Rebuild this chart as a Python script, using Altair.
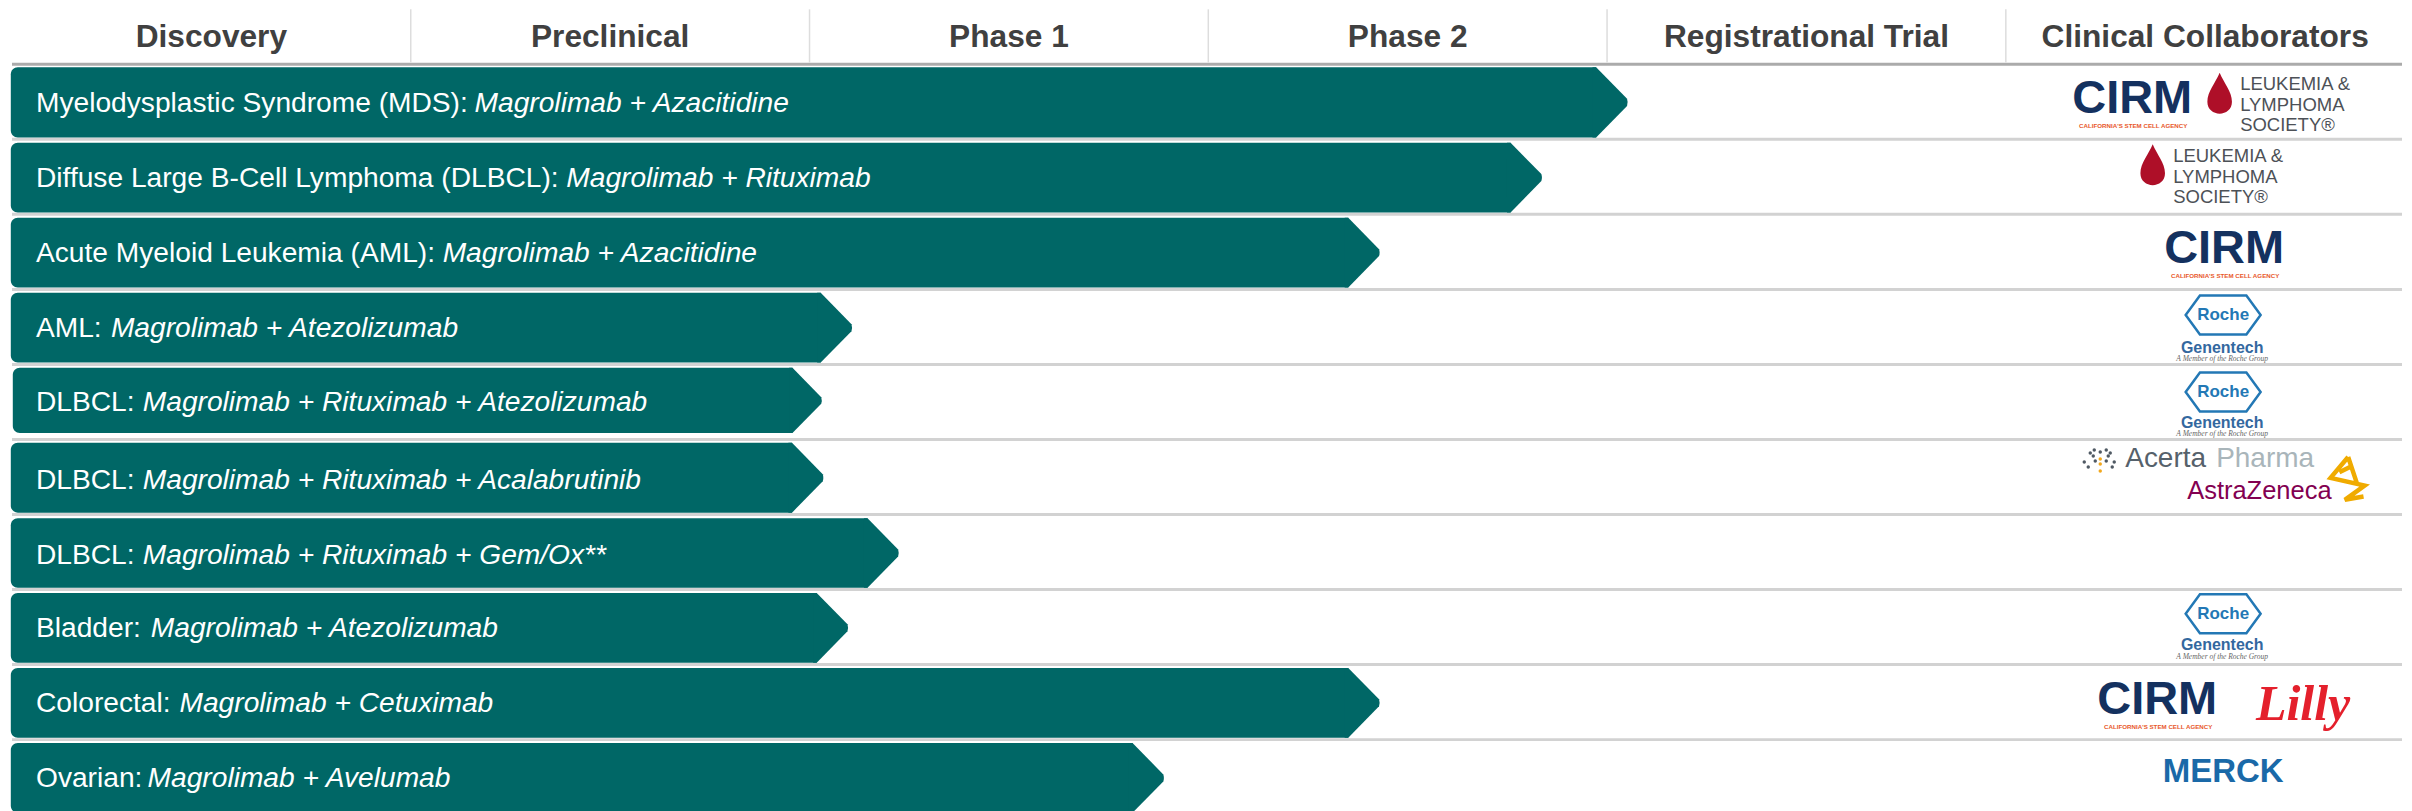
import altair as alt
import pandas as pd

# ---- chart values ----
stages = ["Discovery", "Preclinical", "Phase 1", "Phase 2", "Registrational Trial", "Clinical Collaborators"]
stage_centres = [0.5, 1.5, 2.5, 3.5, 4.5, 5.5]
diseases = [
    "Myelodysplastic Syndrome (MDS): ", "Diffuse Large B-Cell Lymphoma (DLBCL): ",
    "Acute Myeloid Leukemia (AML): ", "AML: ", "DLBCL: ", "DLBCL: ", "DLBCL: ",
    "Bladder: ", "Colorectal: ", "Ovarian: ",
]
regimens = [
    "Magrolimab + Azacitidine", "Magrolimab + Rituximab", "Magrolimab + Azacitidine",
    "Magrolimab + Atezolizumab", "Magrolimab + Rituximab + Atezolizumab",
    "Magrolimab + Rituximab + Acalabrutinib", "Magrolimab + Rituximab + Gem/Ox**",
    "Magrolimab + Atezolizumab", "Magrolimab + Cetuximab", "Magrolimab + Avelumab",
]
progress = [4.053, 3.838, 3.431, 2.108, 2.032, 2.036, 2.225, 2.098, 3.431, 2.89]
regimen_start = [1.16, 1.39, 1.08, 0.248, 0.328, 0.328, 0.328, 0.348, 0.42, 0.34]
bar_start = [-0.003, -0.003, -0.003, -0.003, 0.002, -0.003, -0.003, -0.003, -0.003, -0.003]
bar_top = [0.04, 0.045, 0.045, 0.045, 0.045, 0.045, 0.05, 0.045, 0.045, 0.045]
bar_bot = [0.975, 0.975, 0.975, 0.975, 0.915, 0.975, 0.975, 0.975, 0.975, 0.975]
label_mid = [0.53, 0.53, 0.53, 0.53, 0.51, 0.55, 0.55, 0.53, 0.53, 0.53]

# image pixel -> data unit
X0, XU, Y0, YU = 12.0, 399.1, 63.0, 75.1
def sx(p): return (p - X0) / XU
def sy(p): return (p - Y0) / YU

W, H = 2396, 803
x_scale = alt.Scale(domain=[sx(8), sx(8 + W)], nice=False, zero=False)
y_scale = alt.Scale(domain=[sy(8 + H), sy(8)], nice=False, zero=False)
X = lambda f: alt.X(f, type="quantitative", scale=x_scale, axis=None)
Y = lambda f: alt.Y(f, type="quantitative", scale=y_scale, axis=None)

TEAL = "#006766"
n = len(diseases)

rows = pd.DataFrame({
    "row": list(range(n)), "disease": diseases, "regimen": regimens,
    "end": progress, "reg_x": regimen_start, "start": bar_start,
})
rows["top"] = rows["row"] + bar_top
rows["bot"] = rows["row"] + bar_bot
rows["mid"] = rows["row"] + label_mid
rows["tip_y"] = (rows["top"] + rows["bot"]) / 2
rows["tip_h"] = (rows["bot"] - rows["top"]) * YU
rows["tip_size"] = rows["tip_h"] ** 2
# the tip's drawn width follows its height; the shape runs 0.457 of half-height either side
rows["tip_w"] = rows["tip_h"] * 0.457 / XU
rows["body_end"] = rows["end"] - rows["tip_w"]
rows["tip_x"] = rows["end"] - rows["tip_w"] / 2
rows["label_x"] = sx(36)

bars = alt.Chart(rows).mark_bar(
    color=TEAL, cornerRadiusTopLeft=7, cornerRadiusBottomLeft=7
).encode(x=X("start"), x2="body_end", y=Y("top"), y2="bot")
TIP_SHAPE = "M-0.56,-1 L-0.457,-1 L0.425,-0.1 Q0.457,0 0.425,0.1 L-0.457,1 L-0.56,1 Z"
tip_marks = alt.Chart(rows).mark_point(
    shape=TIP_SHAPE, filled=True, color=TEAL, opacity=1, strokeWidth=0
).encode(x=X("tip_x"), y=Y("tip_y"), size=alt.Size("tip_size:Q", scale=None, legend=None))

label_font = "Liberation Sans"
disease_text = alt.Chart(rows).mark_text(
    align="left", baseline="middle", color="white", font=label_font, fontSize=28.2
).encode(x=X("label_x"), y=Y("mid"), text="disease")
regimen_text = alt.Chart(rows).mark_text(
    align="left", baseline="middle", color="white", font=label_font, fontSize=28.2, fontStyle="italic"
).encode(x=X("reg_x"), y=Y("mid"), text="regimen")

# separators and header
seps = pd.DataFrame({"y": list(range(1, n)), "x1": sx(12), "x2": sx(2404)})
sep_rules = alt.Chart(seps).mark_rule(color="#d2d2d2", strokeWidth=3).encode(
    x=X("x1"), x2="x2", y=Y("y"))
head_line = alt.Chart(pd.DataFrame({"y": [0.0], "x1": [sx(12)], "x2": [sx(2404)]})).mark_rule(
    color="#ababab", strokeWidth=3).encode(x=X("x1"), x2="x2", y=Y("y"))
vert = pd.DataFrame({"x": [1, 2, 3, 4, 5], "y1": sy(8), "y2": sy(61)})
vert_rules = alt.Chart(vert).mark_rule(color="#dddddd", strokeWidth=1.5).encode(
    x=X("x"), y=Y("y1"), y2="y2")
head = pd.DataFrame({"stage": stages, "x": stage_centres, "y": sy(36)})
head.loc[5, "x"] = sx(2207)
head_text = alt.Chart(head).mark_text(
    font=label_font, fontWeight="bold", fontSize=31.7, color="#404040", baseline="middle"
).encode(x=X("x"), y=Y("y"), text="stage")

# ---- collaborator logos (image pixels) ----
NAVY, ORANGE = "#14315f", "#e8592b"
GREY, BLUE = "#4d5157", "#2378b5"
GEN = "#33689f"
logo_text = []
def add(text, x, y, size, color, font=label_font, weight="normal", style="normal", align="left"):
    logo_text.append(dict(text=text, x=sx(x), y=sy(y), size=size, color=color,
                          font=font, weight=weight, fstyle=style, align=align))

def cirm(xc, yc):
    add("CIRM", xc, yc, 47, NAVY, weight="bold", align="center")
    add("CALIFORNIA'S STEM CELL AGENCY", xc + 1, yc + 27, 6.2, ORANGE, weight="bold", align="center")

def lls(x, y):
    for i, t in enumerate(["LEUKEMIA &", "LYMPHOMA", "SOCIETY\u00ae"]):
        add(t, x, y + 20.5 * i, 18.5, GREY)

def roche(xc, yc, gen_y, tag_y):
    add("Roche", xc, yc, 17, BLUE, weight="bold", align="center")
    add("Genentech", xc - 1, gen_y, 16, GEN, weight="bold", align="center")
    add("A Member of the Roche Group", xc - 1, tag_y, 7.5, "#666666",
        font="Liberation Serif", style="italic", align="center")

cirm(2134, 98); lls(2242, 83)
lls(2175, 155)
cirm(2226, 248)
roche_pos = [(314, 347, 358), (391, 422, 433), (613, 644, 656)]
for yc, gy, ty in roche_pos:
    roche(2225, yc, gy, ty)
add("Acerta", 2127, 458, 28, "#56616b")
add("Pharma", 2218, 458, 28, "#a9b5ba")
add("AstraZeneca", 2189, 490, 25.5, "#830051")
cirm(2159, 699)
add("Lilly", 2305, 704, 50, "#e4202c", font="Liberation Serif", weight="bold", style="italic", align="center")
add("MERCK", 2225, 771, 33, "#1a69a8", weight="bold", align="center")
logos = pd.DataFrame(logo_text)

logo_layers = []
for (font, weight, fstyle, align), g in logos.groupby(["font", "weight", "fstyle", "align"]):
    logo_layers.append(alt.Chart(g).mark_text(
        font=font, fontWeight=weight, fontStyle=fstyle, align=align, baseline="middle"
    ).encode(x=X("x"), y=Y("y"), text="text",
             size=alt.Size("size:Q", scale=None, legend=None),
             color=alt.Color("color:N", scale=None, legend=None)))

DROP = "M0,-1 C0.2,-0.5 0.6,-0.1 0.6,0.42 C0.6,0.8 0.3,1 0,1 C-0.3,1 -0.6,0.8 -0.6,0.42 C-0.6,-0.1 -0.2,-0.5 0,-1 Z"
HEX = "M-1,0 L-0.62,-0.52 L0.62,-0.52 L1,0 L0.62,0.52 L-0.62,0.52 Z"
SWIRL = "M0.05,-1 L-0.75,-0.05 L0.8,0.3 L-0.1,0.95 L0.75,0.8 M0.05,-1 L0.45,0.2 M-0.35,-0.3 L0.25,-0.6"

drops = pd.DataFrame({"x": [sx(2221.5), sx(2154.5)], "y": [sy(92), sy(163.5)]})
drop_marks = alt.Chart(drops).mark_point(
    shape=DROP, filled=True, color="#ae0f28", size=41 ** 2, opacity=1
).encode(x=X("x"), y=Y("y"))
hexes = pd.DataFrame({"x": [sx(2225)] * 3, "y": [sy(p[0]) for p in roche_pos]})
hex_marks = alt.Chart(hexes).mark_point(
    shape=HEX, filled=False, color=BLUE, size=75 ** 2, strokeWidth=2.5, opacity=1
).encode(x=X("x"), y=Y("y"))
swirl = pd.DataFrame({"x": [sx(2349)], "y": [sy(478)]})
swirl_mark = alt.Chart(swirl).mark_point(
    shape=SWIRL, filled=False, color="#f0ab00", size=44 ** 2, strokeWidth=4.5, opacity=1
).encode(x=X("x"), y=Y("y"))

dot_x = [2086, 2092, 2096, 2097, 2108, 2108, 2112, 2116, 2090, 2114, 2102, 2102, 2102, 2102, 2095, 2110]
dot_y = [461, 452, 449, 460, 449, 460, 452, 461, 466, 466, 451, 458, 463, 470, 455, 455]
dot_c = ["#4f5963"] * 10 + ["#4f5963", "#f2a81d", "#f2a81d", "#f2a81d", "#4f5963", "#4f5963"]
dots = pd.DataFrame({"x": [sx(v) for v in dot_x], "y": [sy(v) for v in dot_y], "c": dot_c})
dot_marks = alt.Chart(dots).mark_circle(size=12, opacity=1).encode(
    x=X("x"), y=Y("y"), color=alt.Color("c:N", scale=None, legend=None))

chart = alt.layer(
    vert_rules, head_line, sep_rules, bars, tip_marks, disease_text, regimen_text, head_text,
    *logo_layers, drop_marks, hex_marks, swirl_mark, dot_marks
).properties(width=W, height=H, padding=0, background="white").configure_view(stroke=None)

chart.save("out.html", embed_options={"renderer": "svg", "actions": False})
